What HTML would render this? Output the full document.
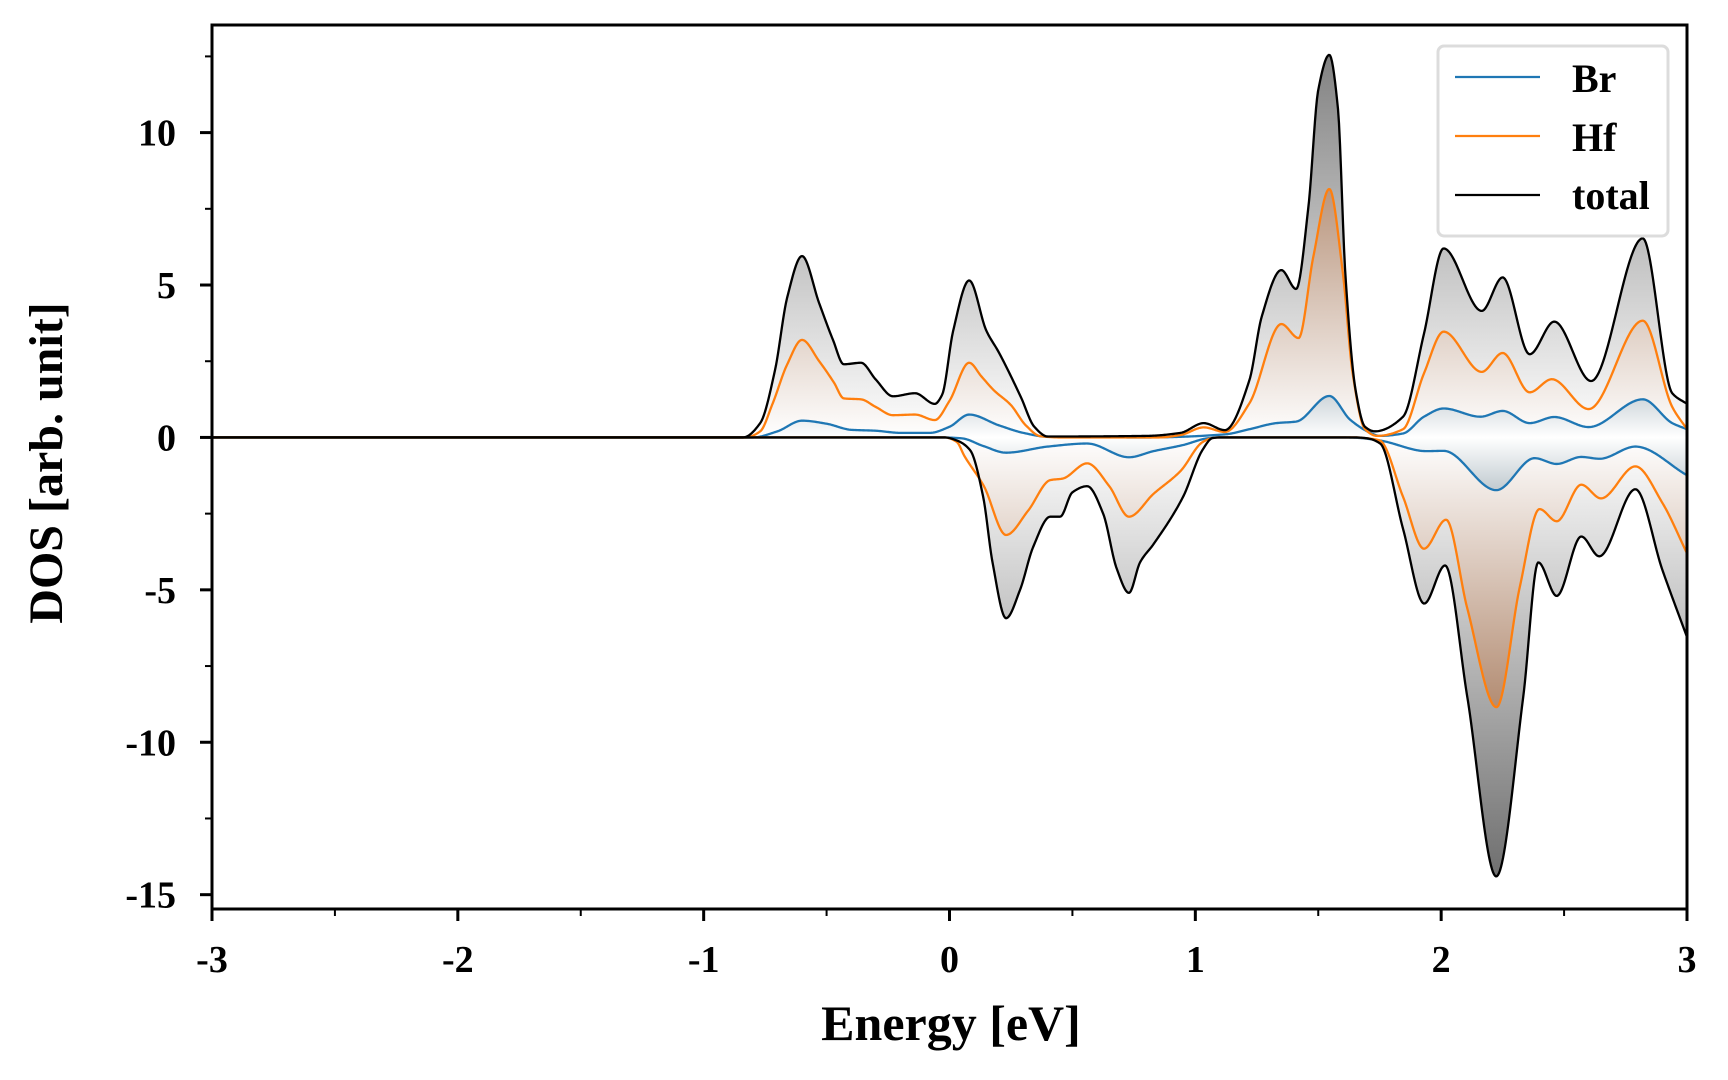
<!DOCTYPE html>
<html><head><meta charset="utf-8"><style>
html,body{margin:0;padding:0;background:#fff;}
svg{display:block;font-family:"Liberation Serif",serif;font-weight:bold;}
</style></head><body>
<svg id="chart" xmlns="http://www.w3.org/2000/svg" width="1728" height="1080" viewBox="0 0 1728 1080">
<defs>
<linearGradient id="gTot" gradientUnits="userSpaceOnUse" x1="0" y1="0" x2="0" y2="1">
</linearGradient>
</defs>
<g id="fills"></g>
<g id="lines"></g>
<g id="axes"></g>
<text x="951" y="1040" font-size="50" text-anchor="middle">Energy [eV]</text>
<text transform="translate(62,463) rotate(-90)" font-size="48" text-anchor="middle">DOS [arb. unit]</text>
<g>
<rect x="1438" y="46" width="230" height="190" rx="6" fill="#fff" stroke="#dcdcdc" stroke-width="3"/>
<line x1="1455" y1="77" x2="1540" y2="77" stroke="#1f77b4" stroke-width="2.2"/>
<text x="1572" y="92" font-size="40">Br</text>
<line x1="1455" y1="136" x2="1540" y2="136" stroke="#ff7f0e" stroke-width="2.2"/>
<text x="1572" y="151" font-size="40">Hf</text>
<line x1="1455" y1="195" x2="1540" y2="195" stroke="#000" stroke-width="2.2"/>
<text x="1572" y="209" font-size="40">total</text>
</g>
</svg>
<script>
const totUpE=[-3,-0.84,-0.77,-0.71,-0.66,-0.6,-0.53,-0.474,-0.43,-0.36,-0.3,-0.23,-0.14,-0.06,-0.03,0.015,0.08,0.15,0.2,0.29,0.345,0.4,0.8,0.94,1.034,1.12,1.22,1.27,1.35,1.41,1.46,1.5,1.545,1.58,1.61,1.652,1.69,1.73,1.845,1.93,2.01,2.165,2.25,2.36,2.46,2.61,2.82,2.94,3.0];
const totUpV=[0,0,0.47,2.2,4.6,5.95,4.4,3.2,2.4,2.45,1.9,1.35,1.45,1.1,1.4,3.5,5.15,3.5,2.8,1.33,0.35,0.03,0.05,0.15,0.47,0.24,1.88,3.96,5.49,4.87,7.57,11.4,12.55,10.8,5.4,1.55,0.35,0.2,0.68,3.4,6.2,4.15,5.25,2.73,3.8,1.85,6.53,1.45,1.1];
const hfUpE=[-3,-0.83,-0.77,-0.72,-0.66,-0.6,-0.53,-0.47,-0.43,-0.36,-0.3,-0.23,-0.14,-0.06,0.0,0.08,0.13,0.18,0.25,0.31,0.37,0.45,0.85,0.94,1.034,1.12,1.22,1.35,1.42,1.48,1.545,1.6,1.64,1.69,1.74,1.845,1.93,2.01,2.165,2.25,2.36,2.45,2.6,2.82,2.94,3.0];
const hfUpV=[0,0,0.2,1.1,2.4,3.2,2.5,1.8,1.28,1.25,1.0,0.73,0.75,0.57,1.2,2.45,2.0,1.55,1.06,0.4,0.04,0,0,0.08,0.33,0.18,1.12,3.72,3.26,5.93,8.15,5.4,2.1,0.27,0.05,0.27,2.1,3.47,2.15,2.77,1.48,1.91,0.93,3.83,1.0,0.27];
const brUpE=[-3,-0.8,-0.7,-0.6,-0.5,-0.4,-0.3,-0.2,-0.08,0.0,0.08,0.2,0.3,0.4,0.8,1.12,1.22,1.33,1.41,1.545,1.63,1.71,1.75,1.845,1.93,2.01,2.16,2.25,2.36,2.46,2.6,2.82,2.94,3.0];
const brUpV=[0,0,0.2,0.55,0.45,0.25,0.22,0.15,0.15,0.35,0.75,0.4,0.15,0.02,0,0.1,0.27,0.47,0.52,1.36,0.58,0.16,0.05,0.13,0.68,0.95,0.68,0.87,0.47,0.67,0.34,1.25,0.47,0.27];
const totDnE=[-3,-0.02,0.03,0.084,0.137,0.175,0.23,0.287,0.34,0.41,0.45,0.5,0.56,0.625,0.68,0.73,0.775,0.83,0.95,1.03,1.07,1.1,1.65,1.7,1.752,1.845,1.931,2.016,2.106,2.224,2.334,2.395,2.47,2.57,2.643,2.79,2.9,3.0];
const totDnV=[0,0,-0.1,-0.42,-1.95,-4.1,-5.93,-5.0,-3.6,-2.6,-2.6,-1.8,-1.6,-2.5,-4.3,-5.1,-4.1,-3.5,-1.95,-0.4,-0.02,0,0,-0.03,-0.2,-3.0,-5.45,-4.2,-8.5,-14.4,-8.5,-4.1,-5.2,-3.25,-3.9,-1.7,-4.35,-6.55];
const hfDnE=[-3,-0.02,0.03,0.06,0.14,0.23,0.32,0.41,0.46,0.56,0.65,0.73,0.83,0.94,1.03,1.07,1.1,1.65,1.7,1.75,1.845,1.93,2.02,2.106,2.225,2.32,2.4,2.47,2.57,2.65,2.79,2.9,3.0];
const hfDnV=[0,0,-0.15,-0.6,-1.6,-3.2,-2.4,-1.4,-1.35,-0.85,-1.6,-2.6,-1.85,-1.1,-0.15,-0.02,0,0,-0.03,-0.1,-1.95,-3.65,-2.7,-5.6,-8.85,-4.9,-2.35,-2.75,-1.55,-2.0,-0.95,-2.15,-3.8];
const brDnE=[-3,-0.03,0.05,0.137,0.23,0.4,0.56,0.73,0.83,0.95,1.05,1.1,1.6,1.65,1.75,1.94,2.01,2.224,2.38,2.47,2.57,2.645,2.79,3.0];
const brDnV=[0,0,-0.03,-0.28,-0.5,-0.3,-0.2,-0.65,-0.45,-0.25,-0.03,0,0,-0.01,-0.1,-0.45,-0.44,-1.73,-0.68,-0.87,-0.64,-0.7,-0.3,-1.24];
const xTickVals=[-3,-2,-1,0,1,2,3];
const xTickLabels=["-3","-2","-1","0","1","2","3"];
const yTickVals=[-15,-10,-5,0,5,10];
const yTickLabels=["-15","-10","-5","0","5","10"];

const NS="http://www.w3.org/2000/svg";
const L=212,R=1687,T=25,B=909,XMIN=-3,XMAX=3,YMIN=-15.47,YMAX=13.53;
function X(e){return L+(e-XMIN)/(XMAX-XMIN)*(R-L);}
function Y(v){return B-(v-YMIN)/(YMAX-YMIN)*(B-T);}
function mk(tag,attrs,parent){const el=document.createElementNS(NS,tag);for(const k in attrs)el.setAttribute(k,attrs[k]);parent.appendChild(el);return el;}

// monotone cubic interpolation
function monotone(xs,ys){
  const n=xs.length,d=[],m=new Array(n);
  for(let i=0;i<n-1;i++)d.push((ys[i+1]-ys[i])/(xs[i+1]-xs[i]));
  m[0]=d[0];m[n-1]=d[n-2];
  for(let i=1;i<n-1;i++){if(d[i-1]*d[i]<=0)m[i]=0;else{const w1=2*(xs[i+1]-xs[i])+(xs[i]-xs[i-1]),w2=(xs[i+1]-xs[i])+2*(xs[i]-xs[i-1]);m[i]=(w1+w2)/(w1/d[i-1]+w2/d[i]);}}
  return function(x){
    let i=0;while(i<n-2&&x>xs[i+1])i++;
    const h=xs[i+1]-xs[i],t=(x-xs[i])/h,t2=t*t,t3=t2*t;
    return (2*t3-3*t2+1)*ys[i]+(t3-2*t2+t)*h*m[i]+(-2*t3+3*t2)*ys[i+1]+(t3-t2)*h*m[i+1];
  };
}
function pts(E,V){
  const f=monotone(E,V),out=[];
  for(let px=L;px<=R;px+=1){const e=XMIN+(px-L)/(R-L)*(XMAX-XMIN);out.push([px,Y(f(e))]);}
  return out;
}
function linePath(p){return "M"+p.map(q=>q[0].toFixed(1)+","+q[1].toFixed(2)).join("L");}
function areaPath(p){return linePath(p)+"L"+R+","+Y(0)+"L"+L+","+Y(0)+"Z";}

const svg=document.getElementById("chart");
const defs=svg.querySelector("defs");
function grad(id,rgb,vmax){
  const g=mk("linearGradient",{id:id,gradientUnits:"userSpaceOnUse",x1:0,y1:Y(vmax),x2:0,y2:Y(-vmax)},defs);
  mk("stop",{offset:"0","stop-color":"rgb("+rgb+")"},g);
  mk("stop",{offset:"0.5","stop-color":"#ffffff"},g);
  mk("stop",{offset:"1","stop-color":"rgb("+rgb+")"},g);
}
grad("gT","105,105,105",15);
grad("gH","160,112,80",11);
grad("gB","190,200,206",1.8);

const fills=document.getElementById("fills"),lines=document.getElementById("lines");
const series=[
 ["total-up",totUpE,totUpV,"#000","url(#gT)"],
 ["total-down",totDnE,totDnV,"#000","url(#gT)"],
 ["hf-up",hfUpE,hfUpV,"#ff7f0e","url(#gH)"],
 ["hf-down",hfDnE,hfDnV,"#ff7f0e","url(#gH)"],
 ["br-up",brUpE,brUpV,"#1f77b4","url(#gB)"],
 ["br-down",brDnE,brDnV,"#1f77b4","url(#gB)"]
];
const P={};
series.forEach(s=>{P[s[0]]=pts(s[1],s[2]);
 const a=mk("path",{d:areaPath(P[s[0]]),fill:s[4],stroke:"none"},fills);
 
 
});
["br-up","br-down","hf-up","hf-down","total-up","total-down"].forEach(k=>{
 const col=series.find(s=>s[0]===k)[3];
 const l=mk("path",{d:linePath(P[k]),fill:"none",stroke:col,"stroke-width":2.3,"stroke-linejoin":"round"},lines);
 
 
});

const axes=document.getElementById("axes");
const fr=mk("rect",{x:L,y:T,width:R-L,height:B-T,fill:"none",stroke:"#000","stroke-width":3},axes);


xTickVals.forEach((v,i)=>{
 const t=mk("line",{x1:X(v),x2:X(v),y1:B,y2:B+12,stroke:"#000","stroke-width":3},axes);
 
 
 const tx=mk("text",{x:X(v),y:972,"font-size":38,"text-anchor":"middle"},axes);
 tx.textContent=xTickLabels[i];
 
 
 if(i<xTickVals.length-1){
  const mn=mk("line",{x1:X(v+0.5),x2:X(v+0.5),y1:B,y2:B+7,stroke:"#000","stroke-width":2},axes);
  
  
 }
});
yTickVals.forEach((v,i)=>{
 const t=mk("line",{x1:L-12,x2:L,y1:Y(v),y2:Y(v),stroke:"#000","stroke-width":3},axes);
 
 
 const tx=mk("text",{x:176,y:Y(v)+13,"font-size":38,"text-anchor":"end"},axes);
 tx.textContent=yTickLabels[i];
 
 
 const mn=mk("line",{x1:L-7,x2:L,y1:Y(v+2.5),y2:Y(v+2.5),stroke:"#000","stroke-width":2},axes);
 
 
});
</script>
</body></html>
